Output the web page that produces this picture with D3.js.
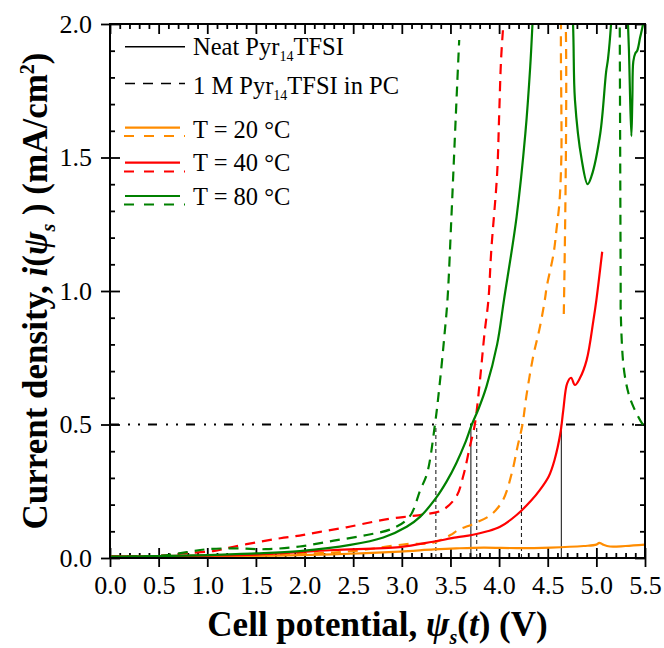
<!DOCTYPE html>
<html><head><meta charset="utf-8">
<script src="https://cdn.jsdelivr.net/npm/d3@7"></script>
<style>body{margin:0;background:#fff}svg{display:block}</style>
</head><body>
<svg id="c" width="664" height="648"></svg>
<script>
// ---------- data ----------
const xTicks = [0,0.5,1,1.5,2,2.5,3,3.5,4,4.5,5,5.5];
const yTicks = [0,0.5,1,1.5,2];
const xTickLabels = ["0.0","0.5","1.0","1.5","2.0","2.5","3.0","3.5","4.0","4.5","5.0","5.5"];
const yTickLabels = ["0.0","0.5","1.0","1.5","2.0"];

// Neat Pyr14TFSI (solid)
const neat20 = [[0,0.004],[0.5,0.005],[1.0,0.006],[1.5,0.008],[1.95,0.011],[2.47,0.016],[2.98,0.024],[3.33,0.032],[3.56,0.036],[3.84,0.039],[4.18,0.037],[4.53,0.039],[4.87,0.045],[5.0,0.05],[5.03,0.057],[5.07,0.05],[5.14,0.043],[5.3,0.045],[5.5,0.05]];
const neat40 = [[0,0.006],[0.5,0.007],[1.0,0.009],[1.5,0.013],[1.95,0.022],[2.3,0.03],[2.98,0.041],[3.32,0.061],[3.56,0.077],[3.72,0.086],[3.87,0.099],[4.01,0.117],[4.18,0.161],[4.33,0.215],[4.42,0.255],[4.51,0.305],[4.57,0.367],[4.63,0.467],[4.66,0.554],[4.70,0.654],[4.74,0.675],[4.78,0.648],[4.83,0.673],[4.90,0.741],[4.97,0.891],[5.00,0.966],[5.06,1.147]];
const neat80 = [[0,0.005],[0.5,0.007],[1.0,0.011],[1.5,0.017],[1.95,0.026],[2.47,0.049],[2.81,0.077],[3.05,0.117],[3.19,0.155],[3.35,0.224],[3.46,0.286],[3.56,0.355],[3.65,0.43],[3.72,0.5],[3.79,0.56],[3.87,0.642],[3.98,0.80],[4.05,0.966],[4.18,1.278],[4.27,1.59],[4.32,1.84],[4.35,2.05],[4.40,2.4],[4.70,2.4],[4.76,2.0],[4.78,1.715],[4.85,1.49],[4.91,1.40],[4.95,1.43],[5.04,1.59],[5.10,1.82],[5.12,1.87],[5.16,2.05],[5.2,2.4],[5.3,2.4],[5.32,2.05],[5.335,1.9],[5.345,1.75],[5.36,1.58],[5.37,1.72],[5.38,1.86],[5.40,1.89],[5.42,1.9],[5.45,1.95],[5.48,2.0],[5.5,2.05]];

// 1 M Pyr14TFSI in PC (dashed)
const pc20 = [[0,0.005],[0.5,0.006],[1.0,0.008],[1.5,0.011],[2.0,0.016],[2.5,0.026],[3.05,0.052],[3.32,0.057],[3.5,0.086],[3.58,0.105],[3.75,0.13],[3.92,0.163],[4.04,0.217],[4.13,0.317],[4.19,0.418],[4.24,0.499],[4.28,0.605],[4.35,0.754],[4.42,0.866],[4.47,0.966],[4.49,1.016],[4.56,1.14],[4.59,1.23],[4.62,1.33],[4.64,1.5],[4.655,2.1],[4.665,2.1],[4.665,0.91]];
const pc40 = [[0,0.005],[0.5,0.008],[0.75,0.017],[1.06,0.026],[1.27,0.042],[1.54,0.061],[1.75,0.074],[1.95,0.084],[2.16,0.098],[2.43,0.115],[2.71,0.136],[2.91,0.149],[3.08,0.156],[3.22,0.163],[3.42,0.18],[3.56,0.23],[3.63,0.305],[3.70,0.418],[3.75,0.499],[3.80,0.654],[3.85,0.841],[3.89,0.966],[3.92,1.154],[3.98,1.44],[4.00,1.65],[4.02,1.865],[4.04,1.98]];
const pc80a = [[0,0.004],[0.5,0.008],[0.79,0.022],[1.0,0.033],[1.3,0.036],[1.6,0.033],[1.95,0.043],[2.30,0.065],[2.64,0.086],[2.91,0.111],[3.08,0.155],[3.19,0.255],[3.26,0.317],[3.34,0.498],[3.39,0.654],[3.44,0.841],[3.47,0.97],[3.51,1.278],[3.54,1.53],[3.57,1.78],[3.59,1.94]];
const pc80b = [[5.24,2.05],[5.245,1.5],[5.25,0.979],[5.25,0.93],[5.28,0.716],[5.33,0.617],[5.38,0.567],[5.47,0.504],[5.5,0.49]];

// onset potentials at 0.5 mA/cm2
const onsetSolid = [3.71, 4.64];
const onsetDashed = [3.35, 3.77, 4.23];
const thresholdI = 0.5;

const colors = {t20:"#ff8c00", t40:"#ff0000", t80:"#008000"};

// ---------- chart ----------
const svg = d3.select("#c");
const L=110, R=645, T=24, B=558;
const x = d3.scaleLinear().domain([0,5.5]).range([L,R]);
const y = d3.scaleLinear().domain([0,2]).range([B,T]);
const FONT = "'Liberation Serif','Times New Roman',serif";

svg.append("defs").append("clipPath").attr("id","clip")
  .append("rect").attr("x",L).attr("y",T).attr("width",R-L).attr("height",B-T);

const xMinor = d3.range(0,56).map(d=>d/10).filter(v=>Math.abs(v*2-Math.round(v*2))>1e-6);
const yMinor = d3.range(0,21).map(d=>d/10).filter(v=>Math.abs(v*2-Math.round(v*2))>1e-6);

function styleAxis(g){ g.select(".domain").remove(); g.selectAll("line").attr("stroke","#000").attr("stroke-width",1.8); }

// bottom
svg.append("g").attr("transform",`translate(0,${B})`)
  .call(d3.axisBottom(x).tickValues(xTicks).tickSize(-10).tickPadding(18).tickFormat((d,i)=>xTickLabels[i]))
  .call(styleAxis)
  .call(g=>g.selectAll("text").attr("font-family",FONT).attr("font-size",26).attr("fill","#000"));
svg.append("g").attr("transform",`translate(0,${B})`)
  .call(d3.axisBottom(x).tickValues(xTicks).tickSize(9).tickFormat("")).call(styleAxis);
svg.append("g").attr("transform",`translate(0,${B})`)
  .call(d3.axisBottom(x).tickValues(xMinor).tickSize(-5).tickFormat("")).call(styleAxis);
// top
svg.append("g").attr("transform",`translate(0,${T})`)
  .call(d3.axisTop(x).tickValues(xTicks).tickSize(-10).tickFormat("")).call(styleAxis);
svg.append("g").attr("transform",`translate(0,${T})`)
  .call(d3.axisTop(x).tickValues(xMinor).tickSize(-5).tickFormat("")).call(styleAxis);
// left
svg.append("g").attr("transform",`translate(${L},0)`)
  .call(d3.axisLeft(y).tickValues(yTicks).tickSize(-10).tickPadding(18).tickFormat((d,i)=>yTickLabels[i]))
  .call(styleAxis)
  .call(g=>g.selectAll("text").attr("font-family",FONT).attr("font-size",26).attr("fill","#000"));
svg.append("g").attr("transform",`translate(${L},0)`)
  .call(d3.axisLeft(y).tickValues(yTicks).tickSize(9).tickFormat("")).call(styleAxis);
svg.append("g").attr("transform",`translate(${L},0)`)
  .call(d3.axisLeft(y).tickValues(yMinor).tickSize(-5).tickFormat("")).call(styleAxis);
// right
svg.append("g").attr("transform",`translate(${R},0)`)
  .call(d3.axisRight(y).tickValues(yTicks).tickSize(-10).tickFormat("")).call(styleAxis);
svg.append("g").attr("transform",`translate(${R},0)`)
  .call(d3.axisRight(y).tickValues(yMinor).tickSize(-5).tickFormat("")).call(styleAxis);

// reference lines
const plot = svg.append("g").attr("clip-path","url(#clip)");
plot.append("line").attr("x1",x(0)).attr("x2",x(5.5)).attr("y1",y(thresholdI)).attr("y2",y(thresholdI))
  .attr("stroke","#000").attr("stroke-width",2).attr("stroke-dasharray","9,9,2,8,2,8");
onsetSolid.forEach(v=>plot.append("line").attr("x1",x(v)).attr("x2",x(v)).attr("y1",y(0)).attr("y2",y(thresholdI))
  .attr("stroke","#222").attr("stroke-width",1.1));
onsetDashed.forEach(v=>plot.append("line").attr("x1",x(v)).attr("x2",x(v)).attr("y1",y(0)).attr("y2",y(thresholdI))
  .attr("stroke","#222").attr("stroke-width",1.1).attr("stroke-dasharray","4,3"));

const line = d3.line().x(d=>x(d[0])).y(d=>y(d[1])).curve(d3.curveCatmullRom.alpha(0.5));
const series = [
  {d:neat20,c:colors.t20,dash:null},
  {d:pc20,c:colors.t20,dash:"10,7"},
  {d:neat40,c:colors.t40,dash:null},
  {d:pc40,c:colors.t40,dash:"10,7"},
  {d:pc80a,c:colors.t80,dash:"10,7"},
  {d:pc80b,c:colors.t80,dash:"10,7"},
  {d:neat80,c:colors.t80,dash:null},
];
series.forEach(s=>{
  plot.append("path").attr("d",line(s.d)).attr("fill","none").attr("stroke",s.c)
    .attr("stroke-width",2.2).attr("stroke-linejoin","round")
    .attr("stroke-dasharray",s.dash);
});

// frame
svg.append("rect").attr("x",L).attr("y",T).attr("width",R-L).attr("height",B-T)
  .attr("fill","none").attr("stroke","#000").attr("stroke-width",2);

// ---------- legend ----------
const lg = svg.append("g").attr("font-family",FONT).attr("font-size",24.5).attr("fill","#000");
function addText(yb, parts){
  const t = lg.append("text").attr("x",193).attr("y",yb);
  parts.forEach(p=>{
    const ts = t.append("tspan").text(p.t);
    if(p.sub){ ts.attr("font-size",14).attr("dy",6); }
    if(p.back){ ts.attr("dy",-6); }
  });
}
lg.append("line").attr("x1",125).attr("x2",185).attr("y1",46.7).attr("y2",46.7).attr("stroke","#000").attr("stroke-width",1.6);
addText(55,[{t:"Neat Pyr"},{t:"14",sub:true},{t:"TFSI",back:true}]);
lg.append("line").attr("x1",125).attr("x2",185).attr("y1",83.5).attr("y2",83.5).attr("stroke","#000").attr("stroke-width",1.6).attr("stroke-dasharray","10,8");
addText(93.5,[{t:"1 M Pyr"},{t:"14",sub:true},{t:"TFSI in PC",back:true}]);
const tRows = [{c:colors.t20,y1:127.7,y2:136,yb:137.5,label:"T = 20 °C"},
               {c:colors.t40,y1:162.7,y2:171.5,yb:171,label:"T = 40 °C"},
               {c:colors.t80,y1:196,y2:204.5,yb:205,label:"T = 80 °C"}];
tRows.forEach(r=>{
  lg.append("line").attr("x1",125).attr("x2",180).attr("y1",r.y1).attr("y2",r.y1).attr("stroke",r.c).attr("stroke-width",2.2);
  lg.append("line").attr("x1",124).attr("x2",185).attr("y1",r.y2).attr("y2",r.y2).attr("stroke",r.c).attr("stroke-width",2.2).attr("stroke-dasharray","10,10");
  addText(r.yb,[{t:r.label}]);
});

// ---------- axis titles ----------
const xt = svg.append("text").attr("x",(L+R)/2).attr("y",636).attr("text-anchor","middle")
  .attr("font-family",FONT).attr("font-size",35).attr("font-weight","bold").attr("fill","#000");
xt.append("tspan").text("Cell potential, ");
xt.append("tspan").text("ψ").attr("font-style","italic");
xt.append("tspan").text("s").attr("font-style","italic").attr("font-size",20).attr("dy",8);
xt.append("tspan").text("(").attr("dy",-8);
xt.append("tspan").text("t").attr("font-style","italic");
xt.append("tspan").text(") (V)");

const yt = svg.append("text").attr("transform",`translate(47,${(T+B)/2}) rotate(-90)`).attr("text-anchor","middle")
  .attr("font-family",FONT).attr("font-size",35).attr("font-weight","bold").attr("fill","#000");
yt.append("tspan").text("Current density, ");
yt.append("tspan").text("i").attr("font-style","italic");
yt.append("tspan").text("(");
yt.append("tspan").text("ψ").attr("font-style","italic");
yt.append("tspan").text("s").attr("font-style","italic").attr("font-size",20).attr("dy",8);
yt.append("tspan").text(" ) (mA/cm").attr("dy",-8);
yt.append("tspan").text("2").attr("font-size",20).attr("dy",-13);
yt.append("tspan").text(")").attr("dy",13);
</script>
</body></html>
